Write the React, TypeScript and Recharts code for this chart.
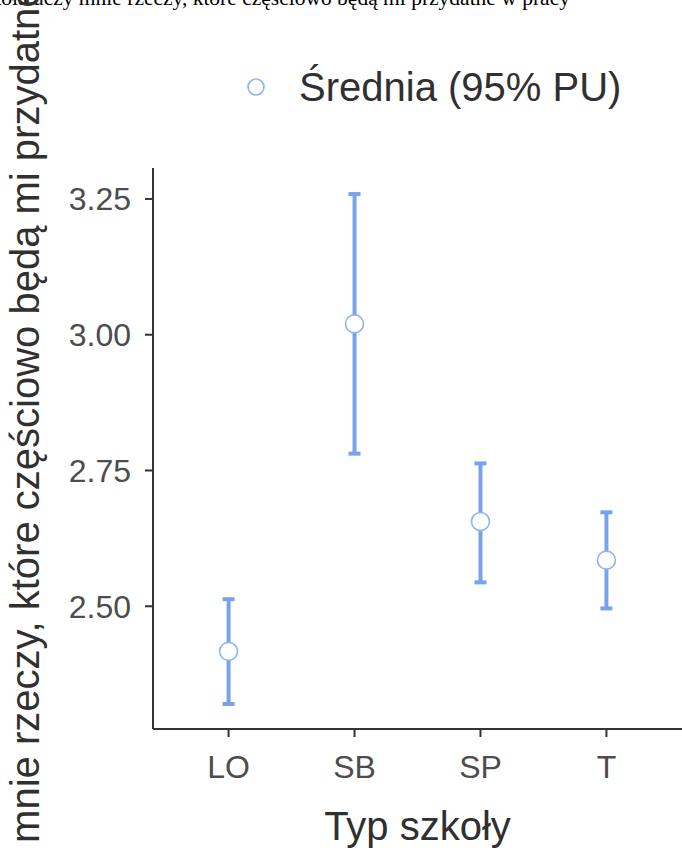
import { ComposedChart, Scatter, ErrorBar, XAxis, YAxis, Legend } from "recharts";

const categories = ["LO", "SB", "SP", "T"];
const means = [2.417, 3.02, 2.656, 2.585];
const lowerCI = [2.32, 2.781, 2.544, 2.496];
const upperCI = [2.513, 3.259, 2.763, 2.673];
const yTicks = [2.5, 2.75, 3.0, 3.25];
const xTicks = [1, 2, 3, 4];

const data = categories.map((c, i) => ({
  x: i + 1,
  category: c,
  mean: means[i],
  err: [means[i] - lowerCI[i], upperCI[i] - means[i]],
}));

const FONT = "'Liberation Sans', Arial, sans-serif";
const BLUE = "#78a3ea";
const POINT = "#8fb3ef";
const AXIS = "#333333";

const Dot = (props: any) => (
  <circle cx={props.cx} cy={props.cy} r={9} fill="#ffffff" stroke={POINT} strokeWidth={1.6} />
);

const renderLegend = () => (
  <div style={{ display: "flex", alignItems: "center", fontFamily: FONT, fontSize: 40, color: "#303030" }}>
    <svg width={22} height={22}>
      <circle cx={11} cy={11} r={8} fill="#ffffff" stroke={POINT} strokeWidth={1.6} />
    </svg>
    <span style={{ marginLeft: 32, lineHeight: "46px" }}>Średnia (95% PU)</span>
  </div>
);

export default function App() {
  return (
    <div style={{ position: "absolute", left: 0, top: 0, width: 682, height: 851, overflow: "hidden", background: "#fff" }}>
      <style>{`html, body { overflow: hidden; }`}</style>
      <div
        style={{
          position: "absolute", left: -31, top: -14, whiteSpace: "nowrap",
          fontFamily: "'Liberation Serif', 'Times New Roman', serif", fontSize: 21.5, lineHeight: "24px", color: "#000",
        }}
      >
        Szkoła uczy mnie rzeczy, które częściowo będą mi przydatne w pracy
      </div>
      <ComposedChart width={682} height={851} data={data} margin={{ top: 168, right: 0, bottom: 0, left: 0 }}>
        <XAxis
          type="number" dataKey="x" domain={[0.4, 4.6]} ticks={xTicks} allowDataOverflow
          tickFormatter={(v: number) => categories[v - 1]}
          height={122} tickSize={8} tickMargin={18}
          stroke={AXIS} axisLine={{ stroke: AXIS, strokeWidth: 2 }} tickLine={{ stroke: AXIS, strokeWidth: 2 }}
          tick={{ fill: "#4d4d4d", fontSize: 32, fontFamily: FONT }}
          label={{
            content: () => (
              <text x={417.5} y={840} textAnchor="middle" fill="#303030" fontSize={40} fontFamily={FONT}>
                Typ szkoły
              </text>
            ),
          }}
        />
        <YAxis
          type="number" domain={[2.274, 3.307]} ticks={yTicks} allowDataOverflow
          tickFormatter={(v: number) => v.toFixed(2)}
          width={153} tickSize={8} tickMargin={14}
          stroke={AXIS} axisLine={{ stroke: AXIS, strokeWidth: 2 }} tickLine={{ stroke: AXIS, strokeWidth: 2 }}
          tick={{ fill: "#4d4d4d", fontSize: 32, fontFamily: FONT }}
          label={{
            content: () => (
              <text transform="translate(39, 452) rotate(-90)" textAnchor="middle" fill="#303030" fontSize={40} fontFamily={FONT}>
                Szkoła uczy mnie rzeczy, które częściowo będą mi przydatne w pracy
              </text>
            ),
          }}
        />
        <Legend
          layout="horizontal" verticalAlign="middle" align="center"
          wrapperStyle={{ top: 64, left: 245, width: 430 }}
          content={renderLegend}
        />
        <Scatter dataKey="mean" shape={Dot} isAnimationActive={false}>
          <ErrorBar dataKey="err" direction="y" width={6} stroke={BLUE} strokeWidth={4} isAnimationActive={false} />
        </Scatter>
      </ComposedChart>
    </div>
  );
}
